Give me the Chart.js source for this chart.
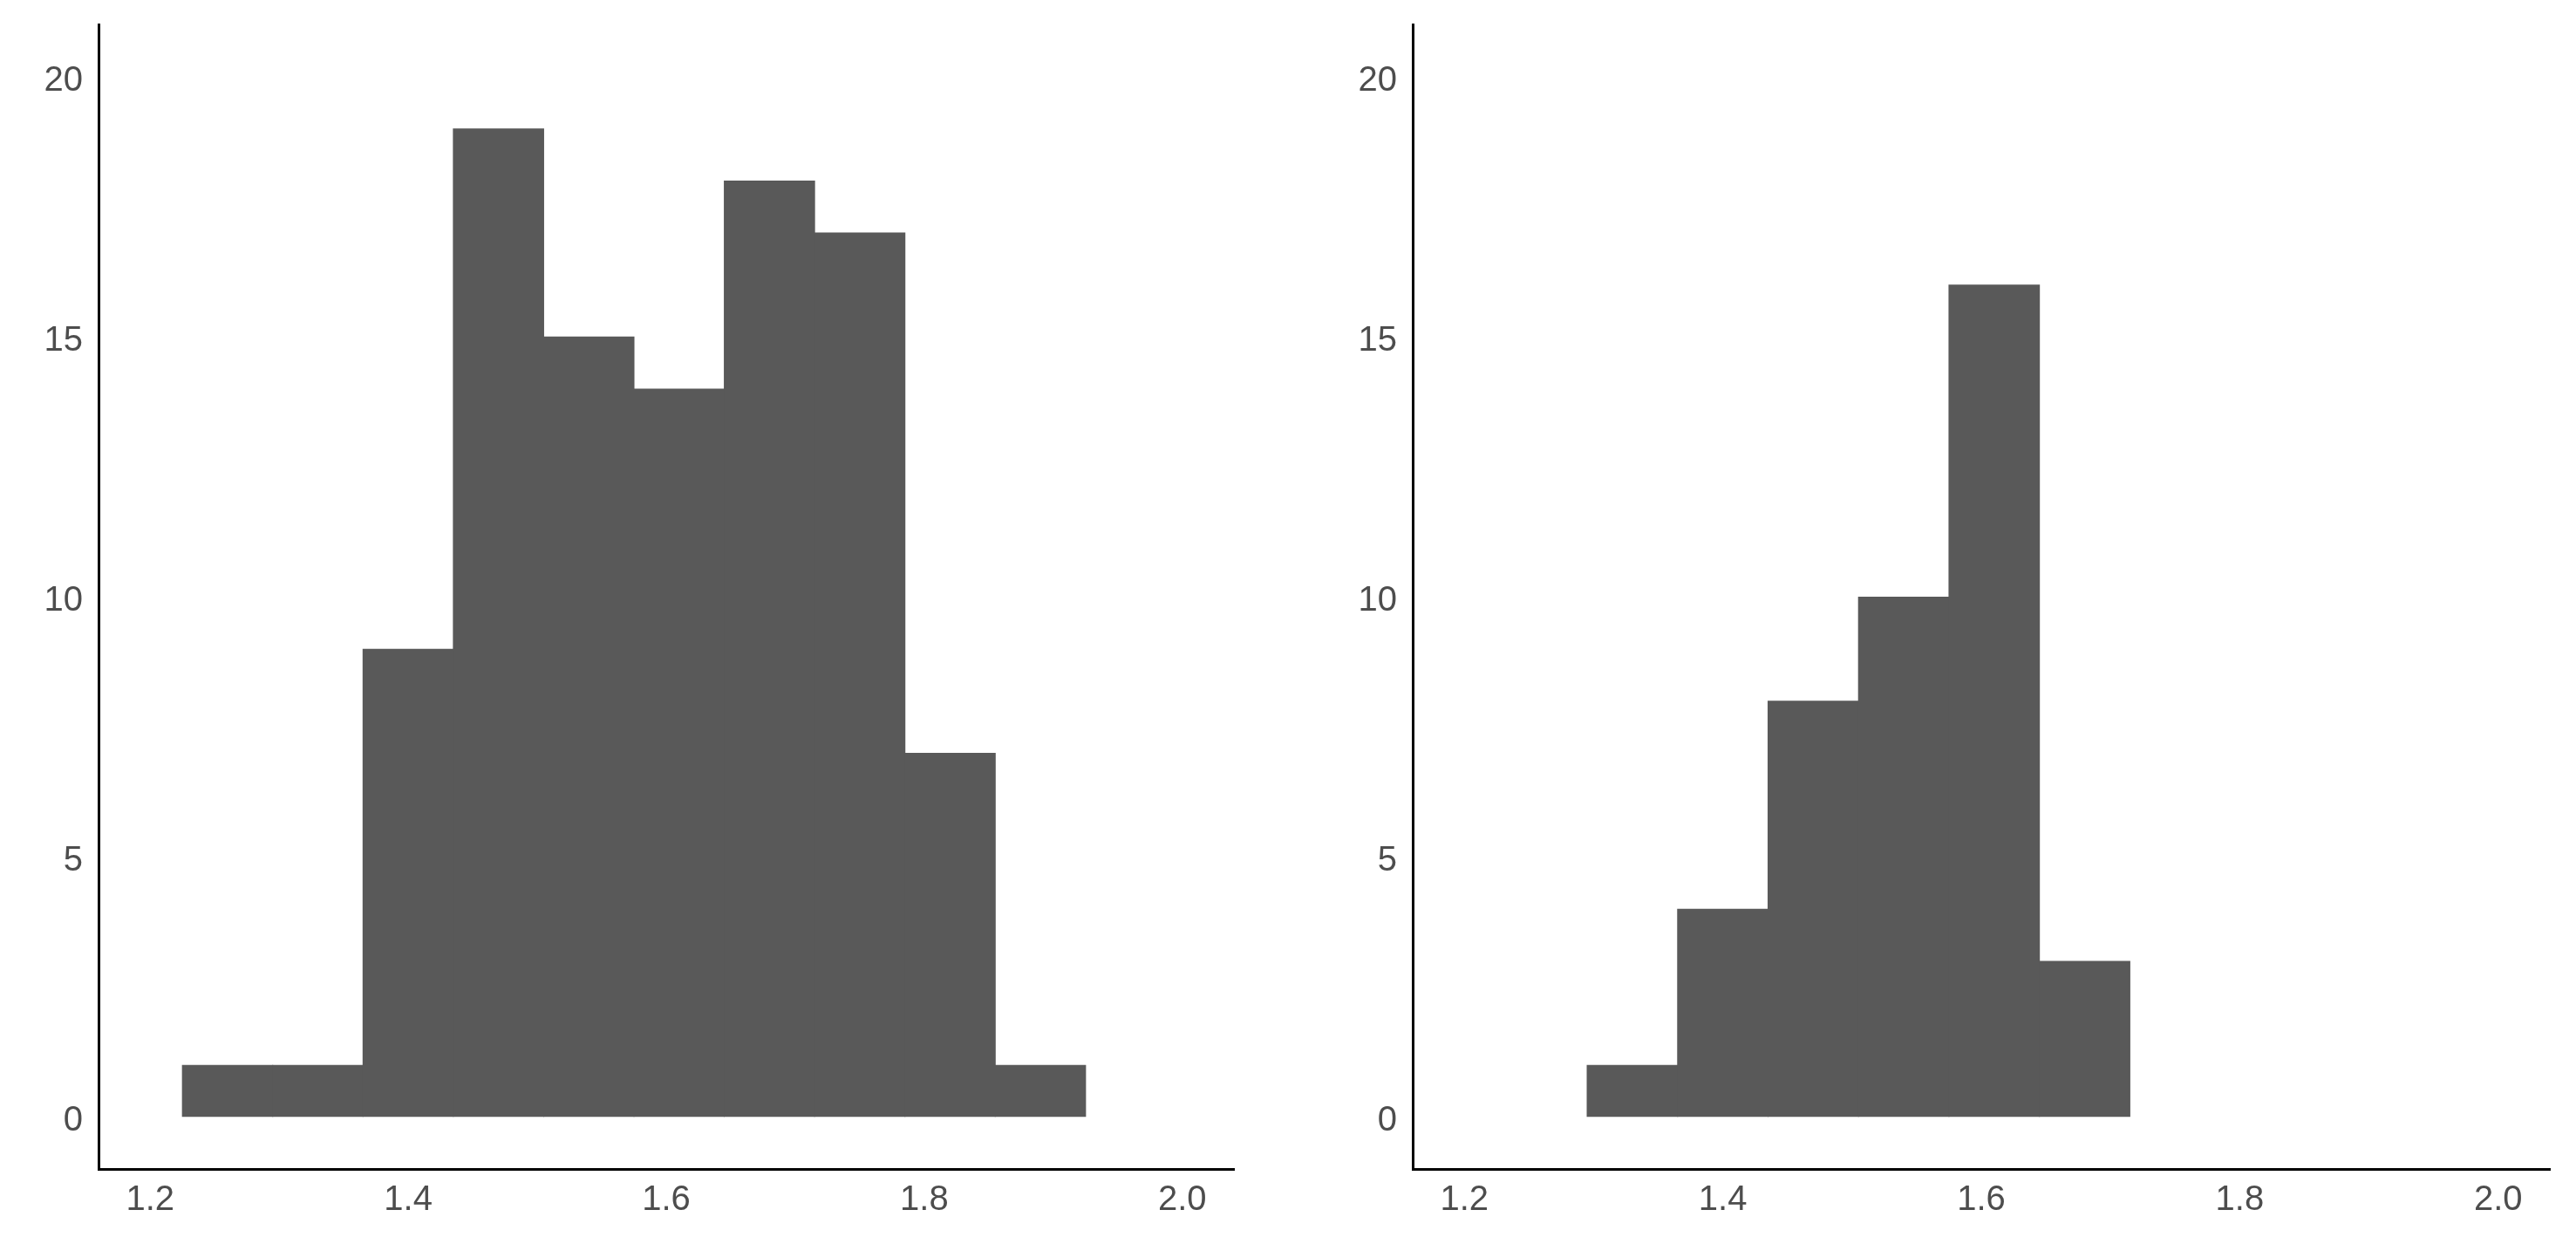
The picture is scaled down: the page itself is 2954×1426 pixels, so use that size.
<!DOCTYPE html>
<html>
<head>
<meta charset="utf-8">
<script src="https://cdn.jsdelivr.net/npm/chart.js@4.4.1/dist/chart.umd.min.js"></script>
<style>
  body { margin: 0; background: #fff; }
  .wrap { display: flex; width: 2954px; height: 1426px; }
  canvas { display: block; }
</style>
</head>
<body>
<div class="wrap">
  <canvas id="leftChart" width="1477" height="1426"></canvas>
  <canvas id="rightChart" width="1477" height="1426"></canvas>
</div>
<script>
// histogram bins (left edge of each bin) and counts
const binStarts = [1.225, 1.295, 1.365, 1.435, 1.505, 1.575, 1.645, 1.715, 1.785, 1.855];
const binWidth = 0.07;
const leftCounts = [1, 1, 9, 19, 15, 14, 18, 17, 7, 1];
const rightCounts = [null, 1, 4, 8, 10, 16, 3, null, null, null];

// axis ticks
const xTicks = [1.2, 1.4, 1.6, 1.8, 2.0];
const yTicks = [0, 5, 10, 15, 20];

const barColor = '#595959';
const textColor = '#4d4d4d';
const tickFont = { family: 'Liberation Sans, Arial, sans-serif', size: 40 };

function toPoints(counts) {
  return binStarts.map((s, i) => ({ x: s + binWidth / 2, y: counts[i] }));
}

function makeHist(id, counts, pad) {
  const ctx = document.getElementById(id).getContext('2d');
  return new Chart(ctx, {
    type: 'bar',
    data: {
      datasets: [{
        data: toPoints(counts),
        backgroundColor: barColor,
        borderWidth: 0,
        barPercentage: 1.01,
        categoryPercentage: 1
      }]
    },
    options: {
      responsive: false,
      animation: false,
      layout: { padding: pad },
      plugins: { legend: { display: false }, tooltip: { enabled: false } },
      scales: {
        x: {
          type: 'linear',
          offset: false,
          min: 1.16,
          max: 2.04,
          grid: { display: false, drawTicks: false },
          border: { display: true, color: '#000', width: 3 },
          afterBuildTicks: (scale) => { scale.ticks = xTicks.map(v => ({ value: v })); },
          afterFit: (scale) => {
            scale.height = 86;
            scale.paddingLeft = 0;
            scale.paddingRight = 0;
          },
          ticks: {
            color: textColor,
            font: tickFont,
            padding: 12,
            maxRotation: 0,
            callback: (v) => v.toFixed(1)
          }
        },
        y: {
          min: -1,
          max: 21,
          grid: { display: false, drawTicks: false },
          border: { display: true, color: '#000', width: 3 },
          afterBuildTicks: (scale) => { scale.ticks = yTicks.map(v => ({ value: v })); },
          afterFit: (scale) => {
            scale.width = 113;
            scale.paddingTop = 0;
            scale.paddingBottom = 0;
          },
          ticks: {
            color: textColor,
            font: tickFont,
            padding: 18,
            labelOffset: 5
          }
        }
      }
    }
  });
}

makeHist('leftChart', leftCounts, { left: 0, top: 28, right: 62, bottom: 0 });
makeHist('rightChart', rightCounts, { left: 30, top: 28, right: 30, bottom: 0 });
</script>
</body>
</html>
